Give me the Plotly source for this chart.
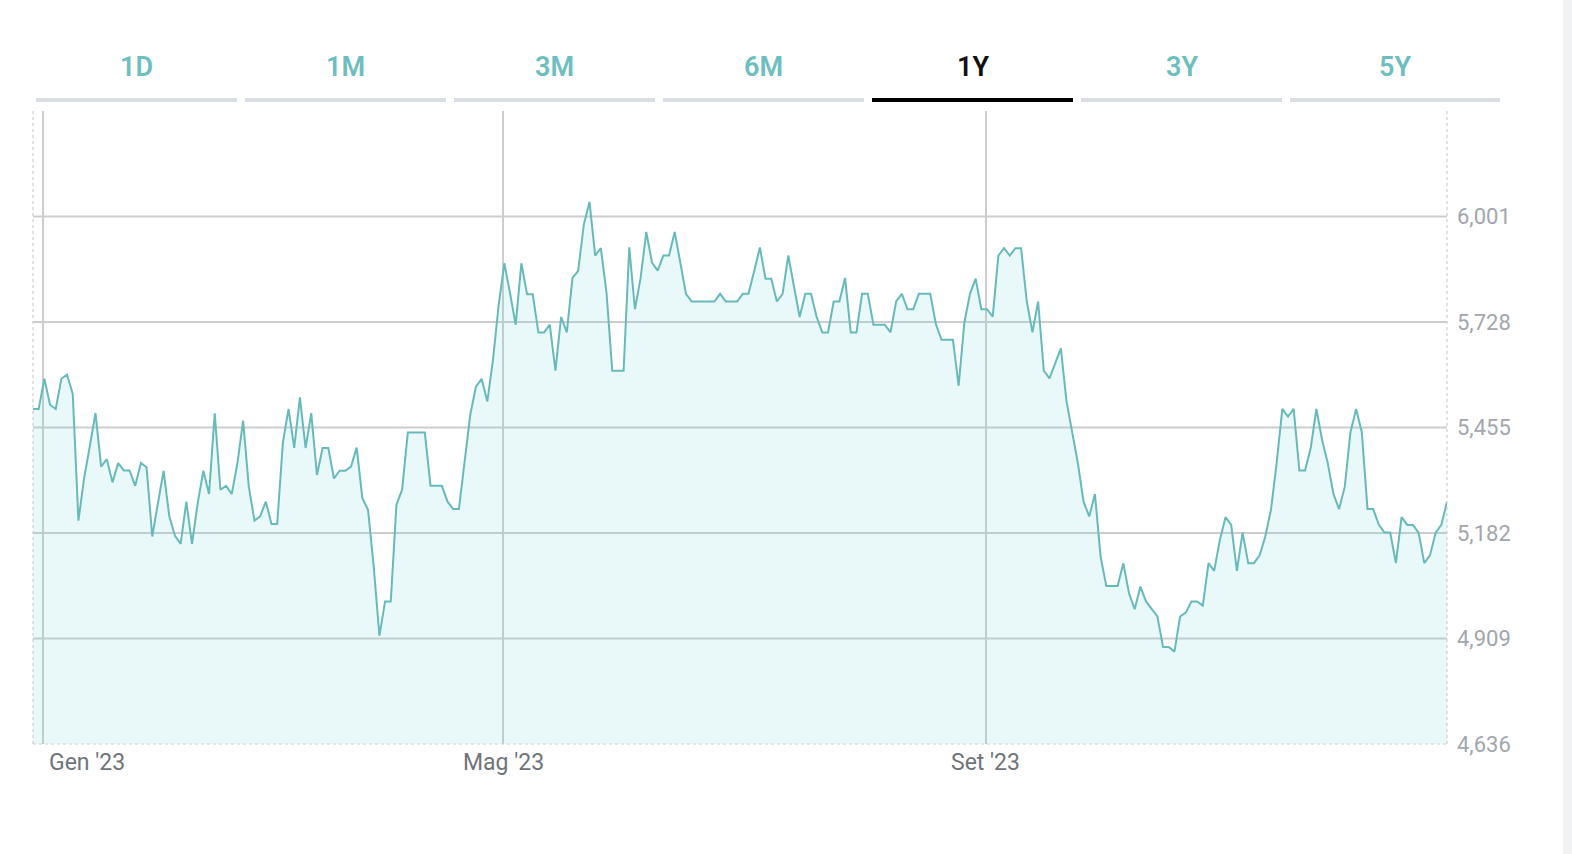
import plotly.graph_objects as go

# ---- data (daily closes) ----
values = [
    5503, 5503, 5581, 5514, 5503, 5581, 5592, 5542, 5214, 5324,
    5406, 5492, 5354, 5373, 5313, 5363, 5344, 5344, 5304, 5363,
    5352, 5173, 5259, 5343, 5225, 5175, 5154, 5263, 5154, 5259,
    5343, 5283, 5492, 5294, 5304, 5283, 5363, 5473, 5302, 5214,
    5225, 5263, 5205, 5205, 5415, 5503, 5402, 5533, 5402, 5492,
    5332, 5402, 5402, 5323, 5343, 5343, 5354, 5403, 5272, 5242,
    5095, 4916, 5005, 5005, 5255, 5294, 5442, 5442, 5442, 5442,
    5304, 5304, 5304, 5263, 5244, 5244, 5363, 5488, 5561, 5581,
    5522, 5630, 5772, 5880, 5803, 5721, 5880, 5800, 5800, 5701,
    5701, 5721, 5602, 5741, 5701, 5842, 5860, 5980, 6039, 5900,
    5919, 5803, 5602, 5602, 5602, 5921, 5761, 5842, 5961, 5882,
    5861, 5900, 5900, 5961, 5880, 5800, 5781, 5781, 5781, 5781,
    5781, 5801, 5781, 5781, 5781, 5801, 5801, 5860, 5921, 5840,
    5840, 5781, 5801, 5900, 5820, 5741, 5801, 5801, 5741, 5701,
    5701, 5781, 5781, 5842, 5701, 5701, 5801, 5801, 5721, 5721,
    5721, 5701, 5781, 5801, 5761, 5761, 5801, 5801, 5801, 5722,
    5682, 5682, 5682, 5563, 5725, 5801, 5840, 5761, 5761, 5742,
    5900, 5919, 5900, 5919, 5919, 5781, 5701, 5781, 5602, 5582,
    5622, 5660, 5522, 5445, 5363, 5263, 5225, 5283, 5121, 5045,
    5045, 5045, 5104, 5026, 4985, 5043, 5005, 4985, 4966, 4887,
    4887, 4875, 4966, 4976, 5005, 5005, 4994, 5104, 5084, 5164,
    5223, 5203, 5084, 5183, 5104, 5104, 5124, 5173, 5242, 5363,
    5503, 5483, 5503, 5344, 5344, 5402, 5503, 5423, 5363, 5283,
    5244, 5302, 5443, 5503, 5443, 5244, 5244, 5203, 5183, 5183,
    5104, 5223, 5203, 5203, 5183, 5104, 5124, 5183, 5203, 5263,
]
x_tick_pos = [1.7, 82.8, 167.8]
x_tick_text = ["Gen '23", "Mag '23", "Set '23"]
y_ticks = [4636, 4909, 5182, 5455, 5728, 6001]
y_top = 6274
tabs = ["1D", "1M", "3M", "6M", "1Y", "3Y", "5Y"]
active_tab = "1Y"

# ---- layout geometry ----
W, H = 1572, 854
L, R, T, B = 33, 125, 111, 110
PW, PH = W - L - R, H - T - B


def px(X):
    return (X - L) / PW


def py(Y):
    return (H - B - Y) / PH


TEAL = "#68baba"
GRID = "#cdcdcd"

fig = go.Figure()
fig.add_trace(go.Scatter(
    x=list(range(len(values))), y=values, mode="lines",
    line=dict(color=TEAL, width=2),
    fill="tozeroy", fillcolor="rgba(110,205,205,0.15)",
    hoverinfo="skip", showlegend=False,
))

shapes = []
annotations = []

# horizontal grid lines (not at the bottom edge)
for v in y_ticks[1:]:
    shapes.append(dict(type="line", xref="paper", yref="y", x0=0, x1=1, y0=v, y1=v,
                       line=dict(color=GRID, width=2), layer="below"))

# dotted frame: left, right, bottom
for x0, y0, x1, y1 in [(0, 0, 0, 1), (1, 0, 1, 1), (0, 0, 1, 0)]:
    shapes.append(dict(type="line", xref="paper", yref="paper", x0=x0, x1=x1, y0=y0, y1=y1,
                       line=dict(color="#cfcfcf", width=1.2, dash="dot"), layer="above"))

# x tick labels
XFONT = dict(family="Roboto", size=23, color="#6f737a")
for i, (p, t) in enumerate(zip(x_tick_pos, x_tick_text)):
    if i == 0:
        annotations.append(dict(x=0, xref="paper", y=py(762), yref="paper", text=t,
                                xanchor="left", yanchor="middle", xshift=14, showarrow=False,
                                font=XFONT))
    else:
        annotations.append(dict(x=p, xref="x", y=py(762), yref="paper", text=t,
                                xanchor="center", yanchor="middle", showarrow=False,
                                font=XFONT))

# tabs
for i, t in enumerate(tabs):
    x0 = 36 + i * 209
    x1 = x0 + (210 if i == len(tabs) - 1 else 201)
    active = (t == active_tab)
    shapes.append(dict(type="rect", xref="paper", yref="paper",
                       x0=px(x0), x1=px(x1), y0=py(102), y1=py(98),
                       fillcolor="#000000" if active else "#dadee3", line=dict(width=0)))
    annotations.append(dict(x=px((x0 + x1) / 2), xref="paper", y=py(67), yref="paper",
                            text=t, showarrow=False, xanchor="center", yanchor="middle",
                            font=dict(family="Roboto", size=27, weight=600,
                                      color="#111111" if active else "#6dbebe")))

# scrollbar strip at the right edge
shapes.append(dict(type="rect", xref="paper", yref="paper",
                   x0=px(1563), x1=px(1572), y0=py(854), y1=py(0),
                   fillcolor="#f1f2f4", line=dict(width=0)))

fig.update_layout(
    width=W, height=H,
    margin=dict(l=L, r=R, t=T, b=B, pad=0),
    paper_bgcolor="white", plot_bgcolor="white",
    shapes=shapes, annotations=annotations,
    xaxis=dict(range=[0, len(values) - 1], tickvals=x_tick_pos, showticklabels=False,
               showgrid=True, gridcolor=GRID, gridwidth=2, zeroline=False, showline=False,
               ticks=""),
    yaxis=dict(range=[y_ticks[0], y_top], tickvals=y_ticks, tickformat=",d", side="right",
               showgrid=False, zeroline=False, showline=False, ticks="",
               ticklabelstandoff=9,
               tickfont=dict(family="Roboto", size=22, color="#a2a6ac")),
)

fig.write_html("out.html")
